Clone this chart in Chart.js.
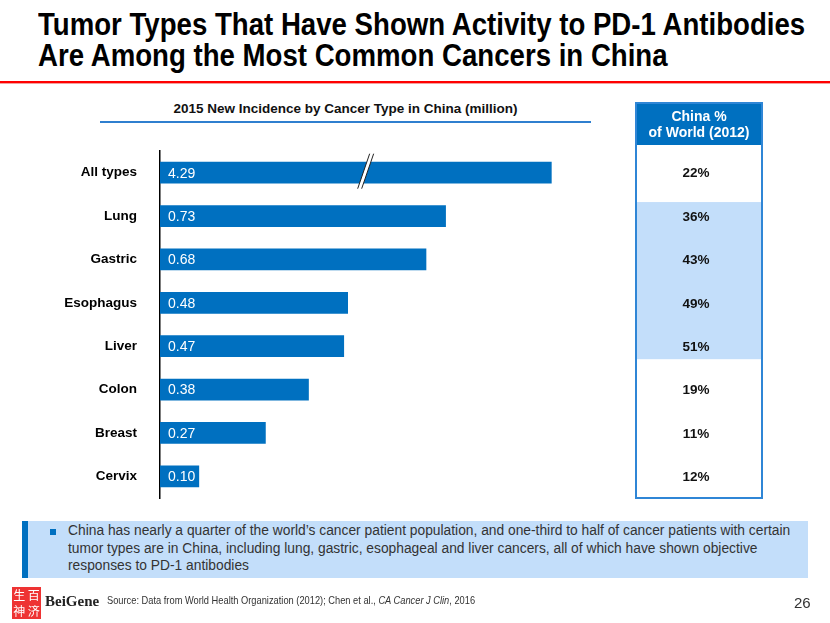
<!DOCTYPE html>
<html><head><meta charset="utf-8">
<script src="https://cdn.jsdelivr.net/npm/chart.js@4.4.1/dist/chart.umd.min.js"></script>
<style>
body{margin:0;width:830px;height:623px;position:relative;background:#fff;font-family:"Liberation Sans",Arial,sans-serif;overflow:hidden}
#title{position:absolute;left:38px;top:9px;font-weight:bold;font-size:31px;line-height:31px;color:#000;white-space:nowrap;transform-origin:0 0}
#redline{position:absolute;left:0;top:81px;width:830px;height:2px;background:#ff0000}
#redline2{position:absolute;left:0;top:83px;width:830px;height:1px;background:#f4a0a0}
#subtitle{position:absolute;left:100px;width:491px;top:101px;text-align:center;font-weight:bold;font-size:13.5px;color:#111}
#subline{position:absolute;left:100px;top:121px;width:491px;height:2px;background:#2f7fcf}
#c{position:absolute;left:0;top:0}
#box{position:absolute;left:22px;top:521px;width:786px;height:57px;background:#c3defa}
#strip{position:absolute;left:0;top:0;width:6px;height:57px;background:#0070c0}
#bullet{position:absolute;left:28px;top:8px;width:6px;height:6px;background:#0070c0}
#boxtext{position:absolute;left:46px;top:1px;width:735px;font-size:13.8px;line-height:17.5px;color:#333}
#seal{position:absolute;left:12px;top:587px;width:29px;height:32px;background:#e33;color:#fff;font-family:"Noto Sans CJK SC";font-size:12px;line-height:15px;display:grid;grid-template-columns:1fr 1fr;text-align:center}
#brand{position:absolute;left:45px;top:593px;font-family:"Liberation Serif",serif;font-weight:bold;font-size:15px;color:#222}
#source{position:absolute;left:107px;top:594px;font-size:10.5px;color:#333;white-space:nowrap;transform-origin:0 0}
#page{position:absolute;left:794px;top:594px;font-size:15px;color:#333}
</style></head>
<body>
<div id="title">Tumor Types That Have Shown Activity to PD-1 Antibodies<br>Are Among the Most Common Cancers in China</div>
<div id="redline"></div><div id="redline2"></div>
<div id="subtitle">2015 New Incidence by Cancer Type in China (million)</div>
<div id="subline"></div>
<canvas id="c" width="830" height="623"></canvas>
<div id="box"><div id="strip"></div><div id="bullet"></div>
<div id="boxtext">China has nearly a quarter of the world’s cancer patient population, and one-third to half of cancer patients with certain tumor types are in China, including lung, gastric, esophageal and liver cancers, all of which have shown objective responses to PD-1 antibodies</div></div>
<div id="seal"><span>生</span><span>百</span><span>神</span><span>济</span></div>
<div id="brand">BeiGene</div>
<div id="source">Source: Data from World Health Organization (2012); Chen et al., <i>CA Cancer J Clin</i>, 2016</div>
<div id="page">26</div>
<script>
// ---- data ----
const categories = ["All types","Lung","Gastric","Esophagus","Liver","Colon","Breast","Cervix"];
const incidence = [4.29, 0.73, 0.68, 0.48, 0.47, 0.38, 0.27, 0.10];
const valueLabels = ["4.29","0.73","0.68","0.48","0.47","0.38","0.27","0.10"];
const chinaShare = ["22%","36%","43%","49%","51%","19%","11%","12%"];
const highlighted = ["Lung","Gastric","Esophagus","Liver"];
const axisBreakAt = 1.0;   // "All types" bar is drawn with an axis break
const breakMarkAt = 0.52;
const tableHeader = ["China %","of World (2012)"];

// fit text widths
function fitWidth(id, target){const t=document.getElementById(id);const w=t.scrollWidth;t.style.transform='scaleX('+(target/w)+')';}
fitWidth('title', 767);
fitWidth('source', 368);

const shown = incidence.map(v => Math.min(v, axisBreakAt));

const extras = {
  id:'extras',
  afterDatasetsDraw(chart){
    const ctx = chart.ctx, xs = chart.scales.x, ys = chart.scales.y;
    const meta = chart.getDatasetMeta(0);
    ctx.save();
    ctx.font = '14px "Liberation Sans", Arial';
    ctx.fillStyle = '#fff'; ctx.textBaseline = 'middle'; ctx.textAlign='left';
    meta.data.forEach((bar,i)=>{ ctx.fillText(valueLabels[i], bar.base + 8, bar.y + 1); });
    incidence.forEach((v,i)=>{
      if (v > axisBreakAt){
        const b = meta.data[i];
        const xm = xs.getPixelForValue(breakMarkAt);
        const top = b.y - 19, bot = b.y + 16, sl = 6, gap = 4;
        ctx.beginPath();
        ctx.moveTo(xm+sl, top); ctx.lineTo(xm+sl+gap, top); ctx.lineTo(xm-sl+gap, bot); ctx.lineTo(xm-sl, bot); ctx.closePath();
        ctx.fillStyle='#fff'; ctx.fill();
        ctx.strokeStyle='#222'; ctx.lineWidth=1;
        ctx.beginPath(); ctx.moveTo(xm+sl, top); ctx.lineTo(xm-sl, bot);
        ctx.moveTo(xm+sl+gap, top); ctx.lineTo(xm-sl+gap, bot); ctx.stroke();
      }
    });
    const L=636, R=762, T=103, H=145, B=498;
    ctx.fillStyle='#0070c0'; ctx.fillRect(L,T,R-L,H-T);
    const hi = categories.map((c,i)=>highlighted.includes(c)?i:-1).filter(i=>i>=0);
    if (hi.length){
      const y0 = ys.getPixelForValue(hi[0]) - 14, y1 = ys.getPixelForValue(hi[hi.length-1]) + 13;
      ctx.fillStyle='#c3defa'; ctx.fillRect(L,y0,R-L,y1-y0);
    }
    ctx.strokeStyle='#2f86d6'; ctx.lineWidth=2; ctx.strokeRect(L,T,R-L,B-T);
    ctx.fillStyle='#fff'; ctx.textAlign='center'; ctx.font='bold 14px "Liberation Sans", Arial';
    ctx.fillText(tableHeader[0], (L+R)/2, 117);
    ctx.fillText(tableHeader[1], (L+R)/2, 133);
    ctx.fillStyle='#111'; ctx.font='bold 13.5px "Liberation Sans", Arial';
    chinaShare.forEach((s,i)=>{ ctx.fillText(s, 696, ys.getPixelForValue(i)+1); });
    ctx.restore();
  }
};

new Chart(document.getElementById('c'), {
  type:'bar',
  data:{ labels: categories, datasets:[{ data: shown, backgroundColor:'#0070c0', borderWidth:0, categoryPercentage:1, barPercentage:0.5 }]},
  options:{
    indexAxis:'y', responsive:false, animation:false,
    layout:{ padding:{ left:0, top:151, right:200, bottom:125 } },
    plugins:{ legend:{display:false}, tooltip:{enabled:false} },
    scales:{
      x:{ display:false, min:0, max:1.2 },
      y:{ afterFit(s){ s.width = 160; },
          grid:{ display:false, drawTicks:false },
          border:{ display:true, color:'#000', width:1.5 },
          ticks:{ color:'#000', padding:23, font:{ family:'"Liberation Sans", Arial', weight:'bold', size:13.5 } } }
    }
  },
  plugins:[extras]
});
</script>
</body></html>
